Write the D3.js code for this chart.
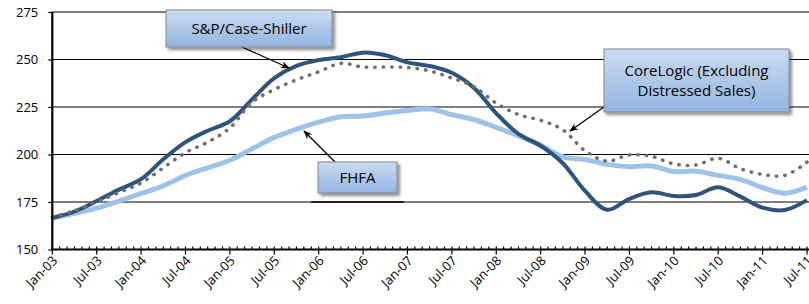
<!DOCTYPE html>
<html lang="en">
<head>
<meta charset="UTF-8">
<script src="https://d3js.org/d3.v7.min.js"></script>
<style>
    body { margin: 0; background: #fff; }
    svg text { font-family: "Open Sans", "Noto Sans", sans-serif; fill: #000; }
    .tick-label { font-size: 13px; }
    .box-label { font-size: 15px; }
</style>
</head>
<body>
<svg width="809" height="304" id="chart"></svg>
<script>
// quarterly readings, Jan-03 .. Jul-11
const dates = ["2003-01","2003-04","2003-07","2003-10","2004-01","2004-04","2004-07","2004-10",
    "2005-01","2005-04","2005-07","2005-10","2006-01","2006-04","2006-07","2006-10",
    "2007-01","2007-04","2007-07","2007-10","2008-01","2008-04","2008-07","2008-10",
    "2009-01","2009-04","2009-07","2009-10","2010-01","2010-04","2010-07","2010-10",
    "2011-01","2011-04","2011-07"];

const caseShiller = [166.6, 170, 175.5, 181.5, 187, 197.5, 206.5, 212.5, 217.5, 229,
    240.2, 246.6, 249.7, 251.2, 253.6, 252.2, 248.5, 246.6, 243, 235,
    221.7, 210.8, 204.6, 195.4, 180.8, 170.9, 176.7, 180.1, 178.2, 178.7,
    182.7, 177.8, 172, 170.8, 176];

const fhfa = [166.6, 169, 171.8, 175.5, 179.5, 183.5, 189, 193, 197, 203,
    209, 213.3, 217, 219.9, 220.3, 221.8, 223.2, 224, 221, 218.3,
    214.3, 209.8, 204.8, 198.7, 197.4, 194.8, 193.6, 194, 191, 191.2,
    189, 186.9, 182.5, 179.6, 182.8];

const coreLogic = [167, 170.5, 175, 180, 185, 193, 201, 206.5, 214, 227.5,
    234.2, 239.3, 243.5, 248, 246, 246, 245.8, 244, 240.2, 235.7,
    227, 221, 218, 213, 202, 196.5, 199.8, 199, 195, 194.5,
    198, 192.5, 189.5, 189, 196];

const xLabels = ["Jan-03","Jul-03","Jan-04","Jul-04","Jan-05","Jul-05","Jan-06","Jul-06","Jan-07",
    "Jul-07","Jan-08","Jul-08","Jan-09","Jul-09","Jan-10","Jul-10","Jan-11","Jul-11"];
const yTicks = [150, 175, 200, 225, 250, 275];

const svg = d3.select("#chart");
const plotLeft = 52.3, plotRight = 807, plotTop = 12, plotBottom = 249.5;

// months since Jan-03
function monthIndex(s) {
    const p = s.split("-");
    return (+p[0] - 2003) * 12 + (+p[1] - 1);
}

const x = d3.scaleLinear().domain([0, 102]).range([plotLeft, plotRight]);
const y = d3.scaleLinear().domain([150, 275]).range([plotBottom, plotTop]);

// gridlines
svg.append("g")
    .selectAll("line")
    .data(yTicks.slice(1))
    .enter().append("line")
    .attr("x1", plotLeft).attr("x2", 809)
    .attr("y1", d => y(d)).attr("y2", d => y(d))
    .attr("stroke", "#000")
    .attr("stroke-width", 1);

// defs: gradient + shadow
const defs = svg.append("defs");
const grad = defs.append("linearGradient").attr("id", "boxGrad")
    .attr("x1", 0).attr("y1", 0).attr("x2", 0).attr("y2", 1);
grad.append("stop").attr("offset", "0%").attr("stop-color", "#cadcf2");
grad.append("stop").attr("offset", "100%").attr("stop-color", "#92b4e0");

const shadow = defs.append("filter").attr("id", "shadow")
    .attr("x", "-10%").attr("y", "-10%").attr("width", "130%").attr("height", "150%");
shadow.append("feDropShadow").attr("dx", 2.5).attr("dy", 2.5)
    .attr("stdDeviation", 1.5).attr("flood-color", "#000").attr("flood-opacity", 0.45);

const arrow = defs.append("marker").attr("id", "arrow")
    .attr("viewBox", "0 0 10 10").attr("refX", 9).attr("refY", 5)
    .attr("markerWidth", 9).attr("markerHeight", 9)
    .attr("markerUnits", "userSpaceOnUse")
    .attr("orient", "auto");
arrow.append("path").attr("d", "M0,1 L10,5 L0,9 L3,5 Z").attr("fill", "#000");

// lines
const line = d3.line()
    .x((d, i) => x(monthIndex(dates[i])))
    .y(d => y(d))
    .curve(d3.curveCatmullRom);

svg.append("path").datum(fhfa)
    .attr("d", line).attr("fill", "none")
    .attr("stroke", "#9fc3e8").attr("stroke-width", 5)
    .attr("stroke-linejoin", "round");

svg.append("path").datum(caseShiller)
    .attr("d", line).attr("fill", "none")
    .attr("stroke", "#2f5479").attr("stroke-width", 4)
    .attr("stroke-linejoin", "round");

svg.append("path").datum(coreLogic)
    .attr("d", line).attr("fill", "none")
    .attr("stroke", "#6f6f6f").attr("stroke-width", 3.5)
    .attr("stroke-dasharray", "0.5,8")
    .attr("stroke-linecap", "round");

// y axis
const yAxis = svg.append("g")
    .attr("transform", "translate(" + plotLeft + ",0)")
    .call(d3.axisLeft(y).tickValues(yTicks).tickSize(4).tickPadding(10));
yAxis.select(".domain").attr("stroke-width", 2.2).attr("d", "M0," + plotTop + "V" + plotBottom);
yAxis.selectAll(".tick line").attr("stroke-width", 1.2);
yAxis.selectAll("text").attr("class", "tick-label").attr("font-size", null).attr("font-family", null);

// x axis: minor monthly ticks, major every 6 months
const months = d3.range(0, 103);
const xAxis = svg.append("g").attr("transform", "translate(0," + plotBottom + ")");
xAxis.selectAll(".minor")
    .data(months)
    .enter().append("line")
    .attr("x1", d => x(d)).attr("x2", d => x(d))
    .attr("y1", -3).attr("y2", d => d % 6 === 0 ? 5 : 0)
    .attr("stroke", "#000").attr("stroke-width", 1.2);
xAxis.append("line")
    .attr("x1", plotLeft - 1).attr("x2", 809)
    .attr("stroke", "#000").attr("stroke-width", 2.2);

xAxis.selectAll(".xl")
    .data(xLabels)
    .enter().append("text")
    .attr("class", "tick-label")
    .attr("text-anchor", "end")
    .attr("transform", (d, i) => "translate(" + (x(i * 6) + 6) + ",12) rotate(-45)")
    .text(d => d);

// callout boxes
function callout(bx, by, bw, bh, lines, from, to) {
    svg.append("line")
        .attr("x1", from[0]).attr("y1", from[1])
        .attr("x2", to[0]).attr("y2", to[1])
        .attr("stroke", "#000").attr("stroke-width", 1.2)
        .attr("marker-end", "url(#arrow)");
    svg.append("rect")
        .attr("x", bx).attr("y", by).attr("width", bw).attr("height", bh)
        .attr("fill", "url(#boxGrad)")
        .attr("stroke", "#888").attr("stroke-width", 1)
        .attr("filter", "url(#shadow)");
    const t = svg.append("text").attr("class", "box-label")
        .attr("text-anchor", "middle");
    const lh = 20;
    const y0 = by + bh / 2 - (lines.length - 1) * lh / 2;
    lines.forEach((s, i) => {
        t.append("tspan").attr("x", bx + bw / 2).attr("y", y0 + i * lh)
            .attr("dy", "0.35em").text(s);
    });
}

callout(166, 10, 166, 37, ["S&P/Case-Shiller"], [242, 47], [289, 68]);
callout(604, 49, 185, 63, ["CoreLogic (Excluding", "Distressed Sales)"], [604, 107], [570, 131]);
callout(318, 162, 79, 31, ["FHFA"], [335, 162], [304, 131]);

// stray underline segment under the FHFA box
svg.append("line").attr("x1", 311).attr("x2", 404)
    .attr("y1", y(175)).attr("y2", y(175))
    .attr("stroke", "#000").attr("stroke-width", 1.5);
</script>
</body>
</html>
